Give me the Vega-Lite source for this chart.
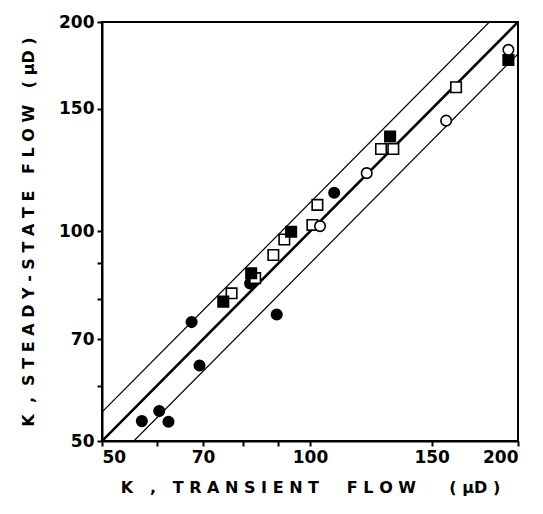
{
  "$schema": "https://vega.github.io/schema/vega-lite/v6.json",
  "width": 416,
  "height": 419,
  "autosize": "none",
  "padding": {"left": 102, "top": 22, "right": 25, "bottom": 73},
  "background": "white",
  "config": {
    "view": {"stroke": "black", "strokeWidth": 2},
    "axis": {
      "grid": false,
      "domainColor": "black",
      "domainWidth": 2,
      "tickColor": "black",
      "tickWidth": 2,
      "tickSize": 5,
      "labelColor": "black",
      "labelFont": "DejaVu Sans",
      "labelFontSize": 17,
      "labelFontWeight": "bold",
      "titleColor": "black",
      "titleFont": "DejaVu Sans",
      "titleFontSize": 16,
      "titleFontWeight": "bold"
    }
  },
  "datasets": {
    "pts": [
      {"x": 57.1, "y": 53.4, "s": "fc"},
      {"x": 60.5, "y": 55.2, "s": "fc"},
      {"x": 62.4, "y": 53.3, "s": "fc"},
      {"x": 69.2, "y": 64.2, "s": "fc"},
      {"x": 67.4, "y": 74.1, "s": "fc"},
      {"x": 89.5, "y": 76.0, "s": "fc"},
      {"x": 81.9, "y": 84.2, "s": "fc"},
      {"x": 108.4, "y": 113.7, "s": "fc"},
      {"x": 77.0, "y": 81.5, "s": "os"},
      {"x": 83.3, "y": 85.7, "s": "os"},
      {"x": 88.5, "y": 92.5, "s": "os"},
      {"x": 91.8, "y": 97.4, "s": "os"},
      {"x": 100.8, "y": 102.2, "s": "os"},
      {"x": 102.5, "y": 109.2, "s": "os"},
      {"x": 126.7, "y": 131.4, "s": "os"},
      {"x": 132.0, "y": 131.4, "s": "os"},
      {"x": 162.7, "y": 161.2, "s": "os"},
      {"x": 74.9, "y": 79.3, "s": "fs"},
      {"x": 82.2, "y": 87.1, "s": "fs"},
      {"x": 93.9, "y": 99.9, "s": "fs"},
      {"x": 130.6, "y": 136.9, "s": "fs"},
      {"x": 193.7, "y": 176.4, "s": "fs"},
      {"x": 103.4, "y": 101.8, "s": "oc"},
      {"x": 120.8, "y": 121.3, "s": "oc"},
      {"x": 157.4, "y": 144.3, "s": "oc"},
      {"x": 193.7, "y": 182.4, "s": "oc"}
    ],
    "main": [
      {"x": 50, "y": 50},
      {"x": 200, "y": 200}
    ],
    "bands": [
      {"x": 50, "y": 55, "l": "upper"},
      {"x": 181.8, "y": 200, "l": "upper"},
      {"x": 55.6, "y": 50, "l": "lower"},
      {"x": 200, "y": 180, "l": "lower"}
    ]
  },
  "layer": [
    {
      "data": {"name": "bands"},
      "mark": {"type": "line", "color": "black", "strokeWidth": 1.2, "clip": true},
      "encoding": {
        "x": {"field": "x", "type": "quantitative", "scale": {"type": "log", "domain": [50, 200], "nice": false}},
        "y": {"field": "y", "type": "quantitative", "scale": {"type": "log", "domain": [50, 200], "nice": false}},
        "detail": {"field": "l"}
      }
    },
    {
      "data": {"name": "main"},
      "mark": {"type": "line", "color": "black", "strokeWidth": 2.6, "clip": true},
      "encoding": {
        "x": {"field": "x", "type": "quantitative"},
        "y": {"field": "y", "type": "quantitative"}
      }
    },
    {
      "data": {"name": "pts"},
      "mark": {"type": "point", "filled": true, "stroke": "black", "strokeWidth": 1.6, "opacity": 1},
      "encoding": {
        "x": {
          "field": "x", "type": "quantitative",
          "axis": {
            "values": [50, 60, 70, 80, 90, 100, 150, 200],
            "labelExpr": "indexof([50,70,100,150,200], datum.value) >= 0 ? datum.value : ''",
            "title": "K\u00a0\u00a0\u00a0,\u00a0\u00a0\u00a0T R A N S I E N T\u00a0\u00a0\u00a0\u00a0\u00a0F L O W\u00a0\u00a0\u00a0\u00a0\u00a0\u00a0( μD )",
            "titlePadding": 14,
            "labelPadding": 3
          }
        },
        "y": {
          "field": "y", "type": "quantitative",
          "axis": {
            "values": [50, 60, 70, 80, 90, 100, 150, 200],
            "labelExpr": "indexof([50,70,100,150,200], datum.value) >= 0 ? datum.value : ''",
            "title": "K\u00a0\u00a0,\u00a0\u00a0S T E A D Y - S T A T E\u00a0\u00a0\u00a0F L O W\u00a0\u00a0\u00a0( μD )",
            "titlePadding": 22,
            "labelPadding": 3
          }
        },
        "shape": {
          "field": "s", "type": "nominal",
          "scale": {"domain": ["fc", "oc", "fs", "os"], "range": ["circle", "circle", "square", "square"]},
          "legend": null
        },
        "fill": {
          "field": "s", "type": "nominal",
          "scale": {"domain": ["fc", "oc", "fs", "os"], "range": ["black", "white", "black", "white"]},
          "legend": null
        },
        "size": {"value": 110}
      }
    }
  ]
}
